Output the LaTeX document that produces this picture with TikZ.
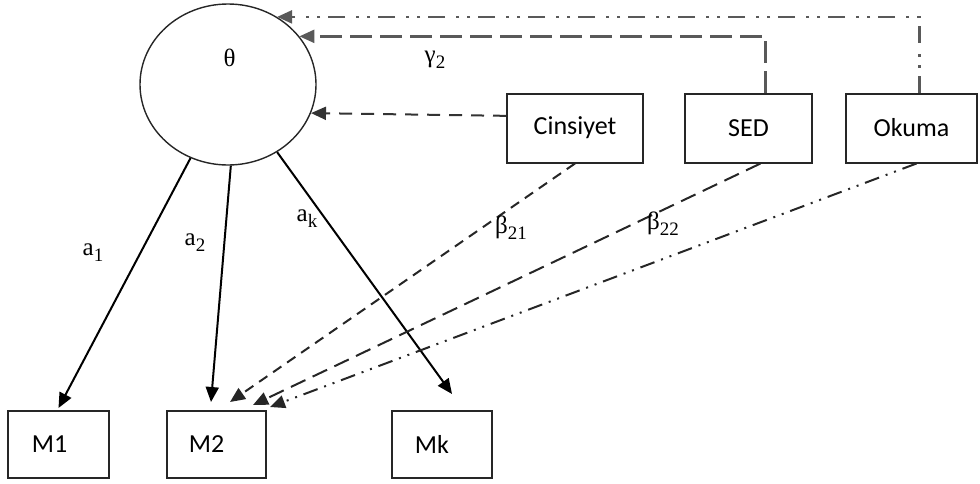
\documentclass[tikz,border=0pt]{standalone}
\usepackage{fontspec}
\setmainfont{Liberation Serif}
\newfontfamily\boxfont{Carlito}
\usetikzlibrary{arrows.meta,shapes.geometric}
\newcommand\sbx[1]{\raisebox{-6pt}{\fontsize{19}{19}\selectfont #1}}
\begin{document}
\begin{tikzpicture}[x=1pt,y=-1pt,
  box/.style={draw=black!85,line width=2pt,rectangle,inner sep=0pt,
    font=\boxfont\fontsize{26}{30}\selectfont},
  lbl/.style={font=\fontsize{25}{28}\selectfont,inner sep=0pt},
  arr/.style={-{Triangle[length=15pt,width=13pt]},line width=2pt},
  dshort/.style={arr,draw=black!80,dash pattern=on 13pt off 9pt},
  dlong/.style={arr,draw=black!65,line width=2.4pt,dash pattern=on 22pt off 8pt},
  ddot/.style={arr,draw=black!65,line width=2.4pt,dash pattern=on 17pt off 8pt on 3pt off 8pt on 3pt off 11pt},
  dshortb/.style={arr,draw=black!85,dash pattern=on 10pt off 7pt},
  dlongb/.style={arr,draw=black!85,dash pattern=on 16pt off 8pt},
  ddotb/.style={arr,draw=black!85,dash pattern=on 15pt off 7pt on 2pt off 7pt on 2pt off 7pt}
]
\useasboundingbox (0,0) rectangle (980,483);

\node[ellipse,draw=black!85,line width=1.4pt,minimum width=176pt,minimum height=161pt,inner sep=0pt] (theta) at (228,84.5) {};
\node[lbl] (thetalbl) at (229.5,58) {θ};

\node[box,minimum width=136pt,minimum height=69pt] (cins) at (575,128) {Cinsiyet};
\node[box,minimum width=127pt,minimum height=69pt] (sed) at (748.5,128) {SED};
\node[box,minimum width=131pt,minimum height=69pt] (okuma) at (911.5,128) {Okuma};

\node[box,minimum width=101pt,minimum height=67pt] (m1) at (58.5,444.5) {M1\hspace*{18pt}};
\node[box,minimum width=99pt,minimum height=67pt] (m2) at (216.5,444.5) {M2\hspace*{20pt}};
\node[box,minimum width=100pt,minimum height=67pt] (mk) at (442,444.5) {Mk\hspace*{20pt}};

% loadings
\draw[arr] (theta.-117) -- ([yshift=2pt]m1.north);
\draw[arr] (theta.-88) -- ([xshift=-5.5pt,yshift=8pt]m2.north);
\draw[arr] (theta.-54) -- ([xshift=10pt,yshift=16pt]mk.north);

% covariates to theta
\draw[dshort] (cins.170) -- (theta.-19);
\draw[dlong] ([xshift=17pt]sed.north) |- (theta.34);
\draw[ddot] ([xshift=8pt]okuma.north) |- (theta.54);

% covariates to M2
\draw[dshortb] (cins.south) -- ([xshift=13.5pt,yshift=8pt]m2.north);
\draw[dlongb] ([xshift=12pt]sed.south) -- ([xshift=36.5pt,yshift=5pt]m2.north);
\draw[ddotb] ([xshift=5pt]okuma.south) -- ([xshift=53.5pt,yshift=3pt]m2.north);

% labels
\node[lbl] (g2) at (435,60) {γ\sbx{2}};
\node[lbl] (a1) at (93,253) {a\sbx{1}};
\node[lbl] (a2) at (195,243) {a\sbx{2}};
\node[lbl] (ak) at (307,219) {a\sbx{k}};
\node[lbl] (b21) at (511,228) {β\sbx{21}};
\node[lbl] (b22) at (663,224) {β\sbx{22}};
\end{tikzpicture}
\end{document}
